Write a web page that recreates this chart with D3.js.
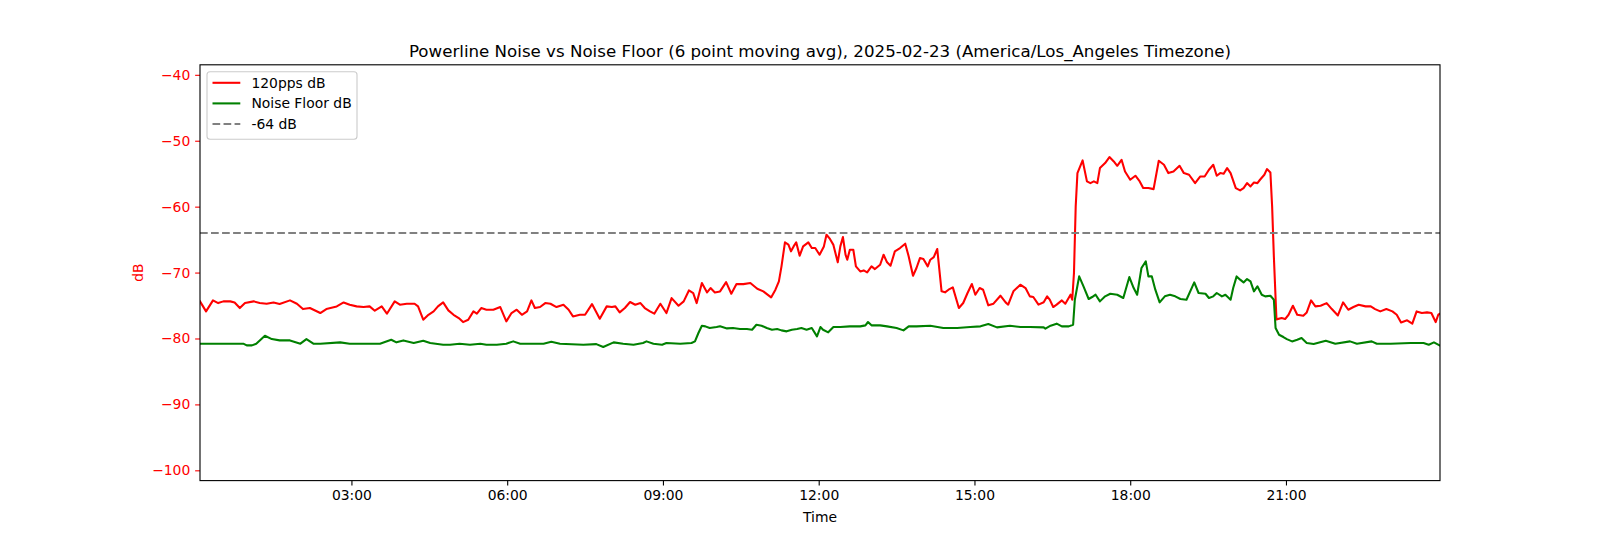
<!DOCTYPE html>
<html><head><meta charset="utf-8">
<script src="https://cdn.jsdelivr.net/npm/d3@7"></script>
<style>body{margin:0;background:#fff}svg{display:block;font-family:"DejaVu Sans",sans-serif}</style>
</head><body><svg id="c" width="1600" height="540"></svg>
<script>
// ---- data ----
const pulseTimes = ["00:05","00:12","00:20","00:26","00:32","00:40","00:45","00:51","00:57","01:07","01:14","01:22","01:30","01:37","01:49","01:57","02:04","02:12","02:24","02:31","02:43","02:51","02:58","03:06","03:14","03:21","03:27","03:35","03:41","03:50","03:56","04:04","04:13","04:17","04:23","04:29","04:35","04:40","04:46","04:52","04:58","05:04","05:09","05:15","05:21","05:25","05:30","05:36","05:44","05:52","05:59","06:05","06:11","06:17","06:23","06:28","06:32","06:38","06:44","06:50","06:57","07:05","07:11","07:16","07:24","07:30","07:38","07:47","07:55","08:01","08:05","08:10","08:16","08:22","08:28","08:34","08:39","08:45","08:50","08:57","09:04","09:10","09:18","09:24","09:30","09:35","09:39","09:45","09:51","09:55","10:00","10:06","10:13","10:19","10:25","10:33","10:41","10:49","10:56","11:05","11:10","11:14","11:17","11:21","11:25","11:28","11:31","11:34","11:38","11:42","11:48","11:52","11:56","12:01","12:06","12:09","12:13","12:17","12:22","12:25","12:28","12:31","12:33","12:36","12:40","12:43","12:48","12:52","12:56","13:01","13:05","13:11","13:15","13:19","13:23","13:28","13:34","13:40","13:44","13:49","13:53","13:57","14:01","14:06","14:09","14:13","14:17","14:22","14:26","14:30","14:35","14:42","14:47","14:52","14:57","15:01","15:06","15:10","15:16","15:22","15:30","15:36","15:39","15:45","15:53","15:59","16:04","16:08","16:14","16:20","16:24","16:27","16:31","16:35","16:41","16:45","16:51","16:53","16:55","16:57","16:59","17:05","17:10","17:14","17:18","17:22","17:25","17:31","17:36","17:41","17:45","17:50","17:54","18:00","18:06","18:11","18:15","18:21","18:27","18:33","18:39","18:44","18:50","18:57","19:02","19:08","19:15","19:21","19:26","19:31","19:36","19:40","19:44","19:48","19:52","19:56","20:02","20:07","20:11","20:15","20:19","20:23","20:27","20:30","20:35","20:38","20:42","20:44","20:46","20:49","20:55","20:59","21:03","21:08","21:13","21:20","21:24","21:29","21:34","21:40","21:47","21:53","22:00","22:06","22:12","22:18","22:24","22:32","22:38","22:43","22:49","22:56","23:03","23:08","23:13","23:20","23:26","23:31","23:37","23:43","23:48","23:53","23:56","23:58"];
const pulseDb = [-74.37,-75.89,-74.22,-74.63,-74.37,-74.37,-74.53,-75.38,-74.63,-74.37,-74.63,-74.73,-74.53,-74.78,-74.22,-74.73,-75.54,-75.38,-76.14,-75.54,-75.13,-74.53,-74.88,-75.13,-75.23,-75.13,-75.79,-75.13,-76.24,-74.37,-74.88,-74.73,-74.73,-75.13,-77.15,-76.4,-75.89,-75.13,-74.53,-75.74,-76.4,-76.9,-77.51,-77.15,-75.89,-76.24,-75.38,-75.64,-75.64,-75.23,-77.41,-76.14,-75.64,-76.4,-75.89,-74.22,-75.38,-75.23,-74.63,-74.73,-75.23,-74.88,-75.64,-76.65,-76.4,-76.4,-74.78,-77.0,-75.13,-75.23,-75.13,-76.04,-75.38,-74.47,-74.88,-74.63,-75.38,-75.89,-76.24,-74.73,-76.14,-73.87,-75.03,-74.37,-72.71,-73.11,-74.63,-71.59,-73.01,-72.35,-73.01,-72.86,-71.44,-73.21,-71.75,-71.75,-71.59,-72.45,-72.86,-73.77,-72.6,-71.34,-69.06,-65.42,-65.77,-66.78,-66.03,-65.42,-67.44,-66.03,-65.42,-66.28,-66.28,-67.29,-66.03,-64.26,-64.9,-65.8,-68.45,-66.03,-64.61,-67.29,-68.05,-66.54,-66.54,-69.06,-69.82,-69.67,-69.97,-69.06,-69.47,-68.81,-67.29,-68.45,-68.96,-66.79,-66.28,-65.62,-67.55,-70.48,-69.31,-67.8,-67.95,-69.06,-68.05,-67.65,-66.43,-72.85,-73.0,-72.6,-72.25,-75.38,-74.62,-73.1,-71.74,-73.36,-72.35,-72.6,-74.97,-74.72,-73.51,-74.52,-74.87,-72.85,-71.84,-72.35,-73.61,-73.71,-74.87,-74.5,-73.61,-74.11,-75.23,-74.87,-74.22,-74.72,-73.36,-74.11,-70.07,-59.96,-54.91,-52.99,-56.17,-56.43,-56.17,-56.43,-54.15,-53.39,-52.48,-53.14,-53.8,-52.89,-54.66,-55.92,-55.31,-56.17,-57.18,-57.18,-57.34,-53.04,-53.65,-54.91,-54.66,-53.8,-54.91,-55.16,-56.43,-55.42,-55.42,-54.4,-53.65,-55.31,-54.91,-55.01,-54.15,-54.91,-57.18,-57.54,-57.18,-56.43,-56.93,-56.33,-56.43,-55.92,-55.16,-54.3,-54.81,-59.96,-67.55,-77.1,-76.9,-77.05,-76.4,-75.03,-76.4,-76.55,-76.04,-74.22,-75.13,-75.03,-74.63,-75.54,-76.5,-74.53,-75.64,-75.23,-74.88,-75.13,-75.13,-75.54,-75.89,-75.54,-75.89,-76.4,-77.56,-77.25,-77.76,-75.89,-76.14,-76.04,-76.14,-77.51,-76.4,-76.24];

const floorTimes = ["00:05","00:55","00:59","01:05","01:10","01:20","01:28","01:37","01:49","02:01","02:08","02:16","02:24","02:47","02:58","03:18","03:33","03:46","03:52","04:00","04:12","04:23","04:31","04:46","04:54","05:05","05:17","05:29","05:36","05:48","05:59","06:07","06:15","06:23","06:42","06:51","07:01","07:28","07:43","07:51","08:03","08:14","08:26","08:37","08:41","08:49","08:59","09:04","09:20","09:33","09:37","09:41","09:45","09:49","09:54","10:02","10:06","10:14","10:21","10:29","10:37","10:43","10:48","10:54","11:00","11:06","11:12","11:17","11:23","11:29","11:35","11:40","11:46","11:52","11:58","12:02","12:05","12:11","12:17","12:25","12:36","12:48","12:54","12:57","13:01","13:11","13:19","13:30","13:38","13:44","13:53","14:09","14:24","14:40","14:55","15:07","15:16","15:26","15:41","15:53","16:04","16:20","16:22","16:28","16:35","16:41","16:49","16:54","16:56","17:01","17:06","17:12","17:16","17:20","17:25","17:31","17:37","17:45","17:52","17:59","18:04","18:08","18:13","18:18","18:21","18:25","18:29","18:34","18:40","18:46","18:52","18:58","19:05","19:14","19:19","19:27","19:31","19:36","19:40","19:46","19:50","19:56","19:59","20:03","20:07","20:11","20:15","20:19","20:23","20:27","20:32","20:36","20:42","20:46","20:48","20:52","20:57","21:01","21:07","21:13","21:18","21:24","21:32","21:46","21:57","22:14","22:22","22:39","22:45","23:01","23:24","23:39","23:45","23:51","23:58"];
const floorDb = [-80.79,-80.79,-81.05,-81.05,-80.79,-79.58,-80.09,-80.29,-80.29,-80.79,-80.09,-80.79,-80.79,-80.59,-80.79,-80.79,-80.79,-80.19,-80.59,-80.29,-80.69,-80.34,-80.69,-80.94,-80.94,-80.79,-80.94,-80.79,-80.94,-80.94,-80.79,-80.44,-80.79,-80.79,-80.79,-80.49,-80.79,-80.94,-80.85,-81.3,-80.59,-80.79,-80.94,-80.69,-80.44,-80.79,-80.94,-80.69,-80.79,-80.69,-80.44,-79.17,-78.06,-78.16,-78.42,-78.27,-78.16,-78.47,-78.42,-78.57,-78.57,-78.67,-77.91,-78.06,-78.42,-78.67,-78.57,-78.77,-78.92,-78.67,-78.57,-78.42,-78.67,-78.42,-79.68,-78.27,-78.67,-79.07,-78.27,-78.26,-78.16,-78.16,-78.01,-77.5,-78.01,-78.01,-78.16,-78.41,-78.77,-78.16,-78.16,-78.06,-78.41,-78.41,-78.26,-78.16,-77.8,-78.31,-78.06,-78.26,-78.26,-78.31,-78.51,-78.06,-77.75,-78.16,-78.16,-77.91,-74.12,-70.58,-72.09,-74.01,-73.71,-73.36,-74.37,-73.61,-73.21,-73.36,-73.86,-70.68,-72.35,-73.36,-69.31,-68.3,-70.58,-70.58,-72.6,-74.52,-73.61,-73.36,-73.61,-74.01,-74.12,-71.49,-73.1,-73.21,-73.86,-73.61,-73.1,-73.61,-73.36,-74.12,-72.35,-70.58,-71.08,-71.49,-70.98,-71.34,-72.85,-72.09,-73.36,-73.61,-73.51,-74.12,-78.42,-79.43,-79.78,-80.09,-80.44,-80.19,-79.93,-80.69,-80.84,-80.34,-80.79,-80.44,-80.79,-80.44,-80.79,-80.79,-80.69,-80.69,-80.94,-80.59,-81.09];

const referenceLevel = -64;
const yTickValues = [-100, -90, -80, -70, -60, -50, -40];
const xTickLabels = ["03:00", "06:00", "09:00", "12:00", "15:00", "18:00", "21:00"];
const legendLabels = ["120pps dB", "Noise Floor dB", "-64 dB"];
const titleText = "Powerline Noise vs Noise Floor (6 point moving avg), 2025-02-23 (America/Los_Angeles Timezone)";

// ---- drawing ----
const parse = d3.timeParse("%H:%M");
const svg = d3.select("#c");
const L = 200, R = 1440, T = 64.8, B = 480.6;
const fs = 13.9;
const lw = 2.08;
const dash = "7.7,3.33";

const pulse = pulseTimes.map((t, i) => ({t: parse(t), v: pulseDb[i]}));
const floor = floorTimes.map((t, i) => ({t: parse(t), v: floorDb[i]}));
const x = d3.scaleTime().domain([parse("00:05"), d3.timeMinute.offset(parse("23:58"), 0.6)]).range([L, R]);
const y = d3.scaleLinear().domain([-101.56, -38.48]).range([B, T]);

svg.append("rect").attr("width", 1600).attr("height", 540).attr("fill", "#fff");

svg.append("defs").append("clipPath").attr("id", "clip").append("rect")
  .attr("x", L).attr("y", T).attr("width", R - L).attr("height", B - T);

const line = d3.line().x(d => x(d.t)).y(d => y(d.v));
const plot = svg.append("g").attr("clip-path", "url(#clip)");
plot.append("path").datum(pulse).attr("d", line).attr("fill", "none").attr("stroke", "#ff0000").attr("stroke-width", lw).attr("stroke-linejoin", "round").attr("stroke-linecap", "square");
plot.append("path").datum(floor).attr("d", line).attr("fill", "none").attr("stroke", "#008000").attr("stroke-width", lw).attr("stroke-linejoin", "round").attr("stroke-linecap", "square");
plot.append("line").attr("x1", L).attr("x2", R).attr("y1", y(referenceLevel)).attr("y2", y(referenceLevel))
  .attr("stroke", "#808080").attr("stroke-width", lw).attr("stroke-dasharray", dash);

// axes
const xAxis = d3.axisBottom(x).tickValues(xTickLabels.map(parse)).tickFormat(d3.timeFormat("%H:%M")).tickSize(4.86).tickPadding(4.86);
const gx = svg.append("g").attr("transform", `translate(0,${B})`).call(xAxis);
gx.select(".domain").remove();
gx.selectAll(".tick line").attr("stroke", "#000").attr("stroke-width", 1.11);
gx.selectAll(".tick text").attr("font-size", fs).attr("fill", "#000").attr("font-family", "DejaVu Sans");

const yAxis = d3.axisLeft(y).tickValues(yTickValues).tickFormat(d3.format("d")).tickSize(4.86).tickPadding(4.86);
const gy = svg.append("g").attr("transform", `translate(${L},0)`).call(yAxis);
gy.select(".domain").remove();
gy.selectAll(".tick line").attr("stroke", "#ff0000").attr("stroke-width", 1.11);
gy.selectAll(".tick text").attr("font-size", fs).attr("fill", "#ff0000").attr("font-family", "DejaVu Sans");

svg.append("rect").attr("x", L).attr("y", T).attr("width", R - L).attr("height", B - T)
  .attr("fill", "none").attr("stroke", "#000").attr("stroke-width", 1.11);

// labels
svg.append("text").attr("x", (L + R) / 2).attr("y", 56.5).attr("text-anchor", "middle").attr("font-size", 16.67).attr("fill", "#000").text(titleText);
svg.append("text").attr("x", (L + R) / 2).attr("y", 522).attr("text-anchor", "middle").attr("font-size", fs).attr("fill", "#000").text("Time");
svg.append("text").attr("transform", `translate(143,${(T + B) / 2}) rotate(-90)`).attr("text-anchor", "middle").attr("font-size", fs).attr("fill", "#ff0000").text("dB");

// legend
const lg = svg.append("g");
lg.append("rect").attr("x", 207).attr("y", 71.7).attr("width", 150).attr("height", 67.6).attr("rx", 3)
  .attr("fill", "#fff").attr("fill-opacity", 0.8).attr("stroke", "#cccccc").attr("stroke-width", 1.11);
const legendStyles = [
  {c: "#ff0000", dash: null},
  {c: "#008000", dash: null},
  {c: "#808080", dash: dash}
];
const rowY = [82.8, 103.4, 124];
legendLabels.forEach((lab, i) => {
  const l = lg.append("line").attr("x1", 212.5).attr("x2", 240.3).attr("y1", rowY[i]).attr("y2", rowY[i])
    .attr("stroke", legendStyles[i].c).attr("stroke-width", lw);
  if (legendStyles[i].dash) l.attr("stroke-dasharray", legendStyles[i].dash);
  lg.append("text").attr("x", 251.4).attr("y", rowY[i] + 5).attr("font-size", fs).attr("fill", "#000").text(lab);
});
</script></body></html>
